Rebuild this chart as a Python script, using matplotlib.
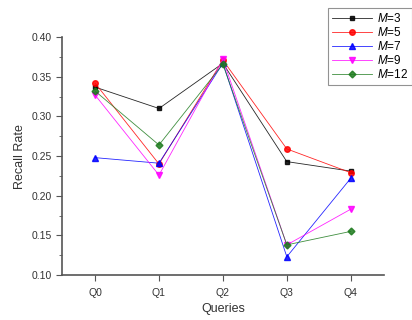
import matplotlib
matplotlib.use("Agg")
import matplotlib.pyplot as plt
from matplotlib.ticker import MultipleLocator

plt.rcParams['font.family'] = ['Liberation Sans', 'DejaVu Sans']
plt.rcParams['mathtext.fontset'] = 'custom'
plt.rcParams['mathtext.it'] = 'Liberation Sans:italic'

queries = ["Q0", "Q1", "Q2", "Q3", "Q4"]
m3 = [0.337, 0.310, 0.367, 0.243, 0.231]
m5 = [0.342, 0.240, 0.371, 0.259, 0.229]
m7 = [0.248, 0.241, 0.367, 0.123, 0.222]
m9 = [0.327, 0.226, 0.372, 0.138, 0.183]
m12 = [0.332, 0.264, 0.366, 0.138, 0.155]
labels = ["$M$=3", "$M$=5", "$M$=7", "$M$=9", "$M$=12"]

fig = plt.figure(figsize=(4.12, 3.2), dpi=100)
ax = fig.add_axes([0.150, 0.1406, 0.782, 0.7434])

x = list(range(len(queries)))
series = [m3, m5, m7, m9, m12]
colors = ["black", "red", "blue", "magenta", "#1e7b1e"]
markers = ["s", "o", "^", "v", "D"]
msizes = [3.5, 4, 4, 4, 3.5]
for s, c, m, ms, lab in zip(series, colors, markers, msizes, labels):
    ax.plot(x, s, color=c, marker=m, markersize=ms, linewidth=0.6, label=lab,
            alpha=0.85)

ax.set_xlim(-0.52, 4.52)
ax.set_ylim(0.10, 0.40)
ax.set_xticks(x)
ax.set_xticklabels(queries)
ax.yaxis.set_major_locator(MultipleLocator(0.05))
ax.yaxis.set_minor_locator(MultipleLocator(0.025))
ax.yaxis.set_major_formatter(matplotlib.ticker.FormatStrFormatter('%.2f'))
ax.spines['top'].set_visible(False)
ax.spines['right'].set_visible(False)
for sp in ['left', 'bottom']:
    ax.spines[sp].set_color('#555555')
    ax.spines[sp].set_linewidth(1.2)
ax.tick_params(axis='both', which='major', direction='out', length=4, width=0.8,
               color='#555555', labelsize=7.5, labelcolor='#333333')
ax.tick_params(axis='x', which='major', pad=5)
ax.tick_params(axis='y', which='minor', direction='out', length=2, width=0.6, color='#555555')
ax.set_xlabel("Queries", fontsize=9, color='#333333')
ax.set_ylabel("Recall Rate", fontsize=9, color='#333333')

leg = fig.legend(loc='upper left', bbox_to_anchor=(328/412, 1 - 8/320),
                 fontsize=8.5, frameon=True, fancybox=False, edgecolor='#777777',
                 handlelength=3.4, borderpad=0.35, labelspacing=0.08,
                 handletextpad=0.4, borderaxespad=0)
leg.get_frame().set_linewidth(0.8)

fig.savefig("out.png", dpi=100)
